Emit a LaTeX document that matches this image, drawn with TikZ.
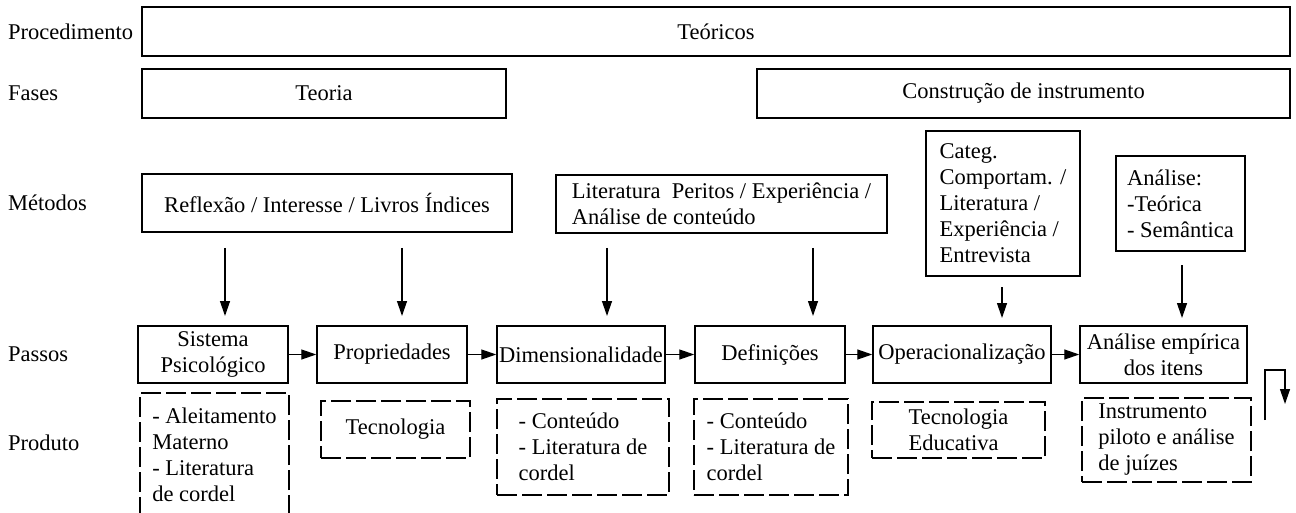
\documentclass[tikz,border=0pt]{standalone}
\usepackage{fontspec}
\setmainfont{Liberation Serif}
\usepackage{tikz}
\usetikzlibrary{arrows.meta}

\tikzset{
	every node/.style={font=\fontsize{22.5}{26}\selectfont, inner sep=0pt},
	caixa/.style={draw, line width=1.5pt, align=center},
	tracejada/.style={draw, line width=1.5pt, dash pattern=on 20pt off 5pt, align=left},
	rotulo/.style={anchor=west},
	seta/.style={line width=1.3pt, -{Triangle[length=15pt,width=10pt]}}
}

\begin{document}
\begin{tikzpicture}[x=1pt, y=-1pt]

	% ---- parameters

	\def\passoy{354.5}
	\def\passoh{57}

	\useasboundingbox (0,0) rectangle (1296,513);

	% ---- row labels

	\node[rotulo] (lproc) at (8,31.5) {Procedimento};
	\node[rotulo] (lfases) at (8,93.5) {Fases};
	\node[rotulo] (lmet) at (8,203) {Métodos};
	\node[rotulo] (lpassos) at (8,\passoy) {Passos};
	\node[rotulo] (lprod) at (8,443) {Produto};

	% ---- procedimento and fases

	\node[caixa, minimum width=1148pt, minimum height=49pt] (teoricos) at (716,31.5) {Teóricos};
	\node[caixa, minimum width=364pt, minimum height=49pt] (teoria) at (324,93.5) {Teoria};
	\node[caixa, minimum width=533pt, minimum height=49pt] (construcao) at (1023.5,93.5) {Construção de instrumento};

	% ---- metodos

	\node[caixa, minimum width=370pt, minimum height=58pt] (reflexao) at (327,203)
		{Reflexão / Interesse / Livros Índices};
	\node[caixa, align=left, minimum width=331pt, minimum height=58pt] (literatura) at (721.5,204)
		{Literatura\ \ Peritos / Experiência /\\Análise de conteúdo};
	\node[caixa, align=left, minimum width=154pt, minimum height=145pt] (categ) at (1003,203.5)
		{Categ.\\Comportam. /\\Literatura /\\Experiência /\\Entrevista};
	\node[caixa, align=left, minimum width=129pt, minimum height=95pt] (analise) at (1180.5,203.5)
		{Análise:\\-Teórica\\- Semântica};

	% ---- passos

	\node[caixa, minimum width=150pt, minimum height=\passoh pt] (sistema) at (213,\passoy) {Sistema\\Psicológico};
	\node[caixa, minimum width=150pt, minimum height=\passoh pt] (propriedades) at (392,\passoy) {Propriedades};
	\node[caixa, minimum width=168pt, minimum height=\passoh pt] (dimensionalidade) at (581,\passoy) {Dimensionalidade};
	\node[caixa, minimum width=150pt, minimum height=\passoh pt] (definicoes) at (770,\passoy) {Definições};
	\node[caixa, minimum width=178pt, minimum height=\passoh pt] (operacionalizacao) at (962,\passoy) {Operacionalização};
	\node[caixa, minimum width=167pt, minimum height=\passoh pt] (empirica) at (1163.5,\passoy) {Análise empírica\\dos itens};

	\draw[seta] (sistema) -- (propriedades);
	\draw[seta] (propriedades) -- (dimensionalidade);
	\draw[seta] (dimensionalidade) -- (definicoes);
	\draw[seta] (definicoes) -- (operacionalizacao);
	\draw[seta] (operacionalizacao) -- (empirica);

	% ---- arrows from metodos to passos

	\foreach \n/\x/\a/\b in {1/225/248/316, 2/402/248/316, 3/607/248/316,
		4/813/248/316, 5/1002/287/318, 6/1182/265/318} {
		\coordinate (s\n) at (\x,\a);
		\coordinate (e\n) at (\x,\b);
		\draw[seta] (s\n) -- (e\n);
	}

	% ---- produto

	\node[tracejada, minimum width=149pt, minimum height=123pt] (aleitamento) at (214.5,454.5)
		{- Aleitamento\\Materno\\- Literatura\\de cordel};
	\node[tracejada, minimum width=149pt, minimum height=57pt] (tecnologia) at (395.5,429.5) {Tecnologia};
	\node[tracejada, minimum width=172pt, minimum height=96pt] (conteudoa) at (583,447)
		{- Conteúdo\\- Literatura de\\cordel};
	\node[tracejada, minimum width=154pt, minimum height=96pt] (conteudob) at (771,447)
		{- Conteúdo\\- Literatura de\\cordel};
	\node[tracejada, minimum width=173pt, minimum height=56pt] (educativa) at (958.5,430)
		{Tecnologia\\Educativa};
	\node[tracejada, minimum width=169pt, minimum height=84pt] (instrumento) at (1166.5,440)
		{Instrumento\\piloto e análise\\de juízes};

	% ---- return arrow

	\coordinate (r1) at (1265,420);
	\coordinate (r2) at (1265,370);
	\coordinate (r3) at (1285,370);
	\coordinate (r4) at (1285,404);
	\draw[seta] (r1) -- (r2) -- (r3) -- (r4);

\end{tikzpicture}
\end{document}
